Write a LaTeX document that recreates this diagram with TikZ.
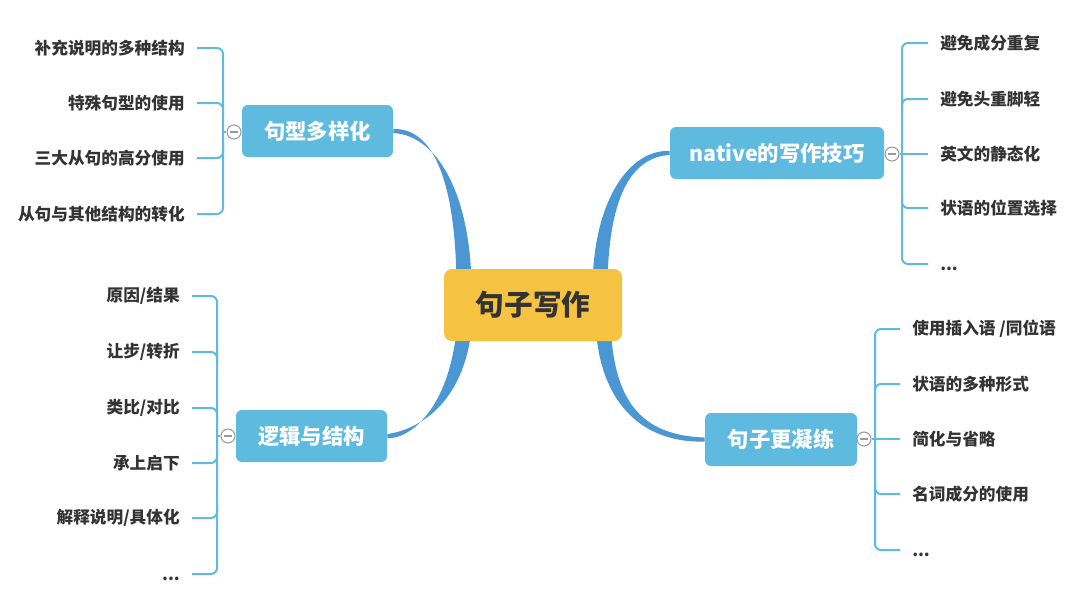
\documentclass[tikz,border=0pt]{standalone}
\usepackage{fontspec}
\setmainfont{Noto Sans CJK SC}
\usetikzlibrary{calc,backgrounds}
\definecolor{topicblue}{HTML}{5EBADF}
\definecolor{branchblue}{HTML}{4A97D3}
\definecolor{centeryellow}{HTML}{F5C242}
\definecolor{subline}{HTML}{5EBADF}
\definecolor{txt}{HTML}{333333}
\definecolor{btn}{HTML}{9A9A9A}
\begin{document}
\begin{tikzpicture}[x=0.75pt,y=-0.75pt,
  topic/.style={fill=topicblue, rounded corners=4.5pt, text=white,
    font=\bfseries\fontsize{16}{18}\selectfont, inner sep=0pt},
  centre/.style={fill=centeryellow, rounded corners=6pt, text=txt,
    font=\bfseries\fontsize{21.5}{24}\selectfont, inner sep=0pt,
    minimum width=133.5pt, minimum height=54pt},
  leafL/.style={anchor=east, text=txt, font=\bfseries\fontsize{12.5}{14}\selectfont,
    inner ysep=0pt, inner xsep=9pt},
  leafR/.style={anchor=west, text=txt, font=\bfseries\fontsize{12.5}{14}\selectfont,
    inner ysep=0pt, inner xsep=9pt},
  dots/.style={text depth=0pt, text height=9pt},
  cbtn/.style={circle, draw=btn, fill=white, line width=0.8pt, minimum size=10.5pt,
    inner sep=0pt, path picture={\draw[btn,line width=0.8pt]
      ([xshift=2pt]path picture bounding box.west) --
      ([xshift=-2pt]path picture bounding box.east);}},
  sub/.style={draw=subline, line width=1.5pt, rounded corners=4.5pt},
  branch/.style={fill=branchblue}
]
\useasboundingbox (0,0) rectangle (1080,594);

% central node and topics
\node[centre] (c) at (533,305) {句子写作};
\node[topic, minimum width=113.25pt, minimum height=39pt] (t1) at (317.5,131) {句型多样化};
\node[topic, minimum width=160.5pt, minimum height=39pt] (t2) at (777,153) {native的写作技巧};
\node[topic, minimum width=113.25pt, minimum height=39pt] (t3) at (311.5,436) {逻辑与结构};
\node[topic, minimum width=114pt, minimum height=39.75pt] (t4) at (781,439.5) {句子更凝练};

% main branches (tapered bands)
\begin{pgfonlayer}{background}
\fill[branch] ($(t1.east)+(0,-2)$) .. controls (440,127.5) and (456.5,200) .. ($(c)+(-76.5,-15)$)
  -- ($(c)+(-61.5,-15)$) .. controls (471.5,200) and (440,135.5) .. ($(t1.east)+(0,2)$) -- cycle;
\fill[branch] ($(t2.west)+(0,-2)$) .. controls (630,149) and (592.5,200) .. ($(c)+(59.5,-15)$)
  -- ($(c)+(74.5,-15)$) .. controls (607.5,200) and (630,157) .. ($(t2.west)+(0,2)$) -- cycle;
\fill[branch] ($(t3.east)+(0,2)$) .. controls (405,440) and (450.5,415) .. ($(c)+(-75.5,15)$)
  -- ($(c)+(-60.5,15)$) .. controls (465.5,415) and (405,432) .. ($(t3.east)+(0,-2)$) -- cycle;
\fill[branch] ($(t4.west)+(0,2)$) .. controls (640,443.5) and (597.5,400) .. ($(c)+(62.5,15)$)
  -- ($(c)+(77.5,15)$) .. controls (612.5,400) and (640,435.5) .. ($(t4.west)+(0,-2)$) -- cycle;
\end{pgfonlayer}

% spine coordinates
\coordinate (s1) at (223,132);
\coordinate (s2) at (902,154);
\coordinate (s3) at (217,436);
\coordinate (s4) at (875,439);

% leaves: group 1
\node[leafL] (a1) at (197,48) {补充说明的多种结构};
\node[leafL] (a2) at (197,103) {特殊句型的使用};
\node[leafL] (a3) at (197,158) {三大从句的高分使用};
\node[leafL] (a4) at (197,214) {从句与其他结构的转化};
\draw[sub] (a1.east) -- (a1.east -| s1) -- (a4.east -| s1) -- (a4.east);
\draw[sub] (a2.east) -- (a2.east -| s1) -- ++(0,12);
\draw[sub] (a3.east) -- (a3.east -| s1) -- ++(0,-12);

% leaves: group 2
\node[leafR] (b1) at (928,43) {避免成分重复};
\node[leafR] (b2) at (928,99) {避免头重脚轻};
\node[leafR] (b3) at (928,154) {英文的静态化};
\node[leafR] (b4) at (928,208) {状语的位置选择};
\node[leafR, dots] (b5) at (928,264) {...};
\draw[sub] (b1.west) -- (b1.west -| s2) -- (b5.west -| s2) -- (b5.west);
\draw[sub] (b2.west) -- (b2.west -| s2) -- ++(0,12);
\draw[sub] (b3.west) -- (b3.west -| s2);
\draw[sub] (b4.west) -- (b4.west -| s2) -- ++(0,-12);

% leaves: group 3
\node[leafL] (d1) at (192,296) {原因/结果};
\node[leafL] (d2) at (192,352) {让步/转折};
\node[leafL] (d3) at (192,408) {类比/对比};
\node[leafL] (d4) at (192,463) {承上启下};
\node[leafL] (d5) at (192,518) {解释说明/具体化};
\node[leafL, dots] (d6) at (192,574) {...};
\draw[sub] (d1.east) -- (d1.east -| s3) -- (d6.east -| s3) -- (d6.east);
\draw[sub] (d2.east) -- (d2.east -| s3) -- ++(0,12);
\draw[sub] (d3.east) -- (d3.east -| s3) -- ++(0,12);
\draw[sub] (d4.east) -- (d4.east -| s3) -- ++(0,-12);
\draw[sub] (d5.east) -- (d5.east -| s3) -- ++(0,-12);

% leaves: group 4
\node[leafR] (e1) at (900,329) {使用插入语 /同位语};
\node[leafR] (e2) at (900,384) {状语的多种形式};
\node[leafR] (e3) at (900,439) {简化与省略};
\node[leafR] (e4) at (900,494) {名词成分的使用};
\node[leafR, dots] (e5) at (900,550) {...};
\draw[sub] (e1.west) -- (e1.west -| s4) -- (e5.west -| s4) -- (e5.west);
\draw[sub] (e2.west) -- (e2.west -| s4) -- ++(0,12);
\draw[sub] (e3.west) -- (e3.west -| s4);
\draw[sub] (e4.west) -- (e4.west -| s4) -- ++(0,-12);

% collapse buttons
\node[cbtn] (k1) at (234,132) {};
\node[cbtn] (k2) at (892,154) {};
\node[cbtn] (k3) at (228,436) {};
\node[cbtn] (k4) at (864,439) {};
\draw[sub] (k1.west) -- (s1);
\draw[sub] (k2.east) -- (s2);
\draw[sub] (k3.west) -- (s3);
\draw[sub] (k4.east) -- (s4);
\end{tikzpicture}
\end{document}
